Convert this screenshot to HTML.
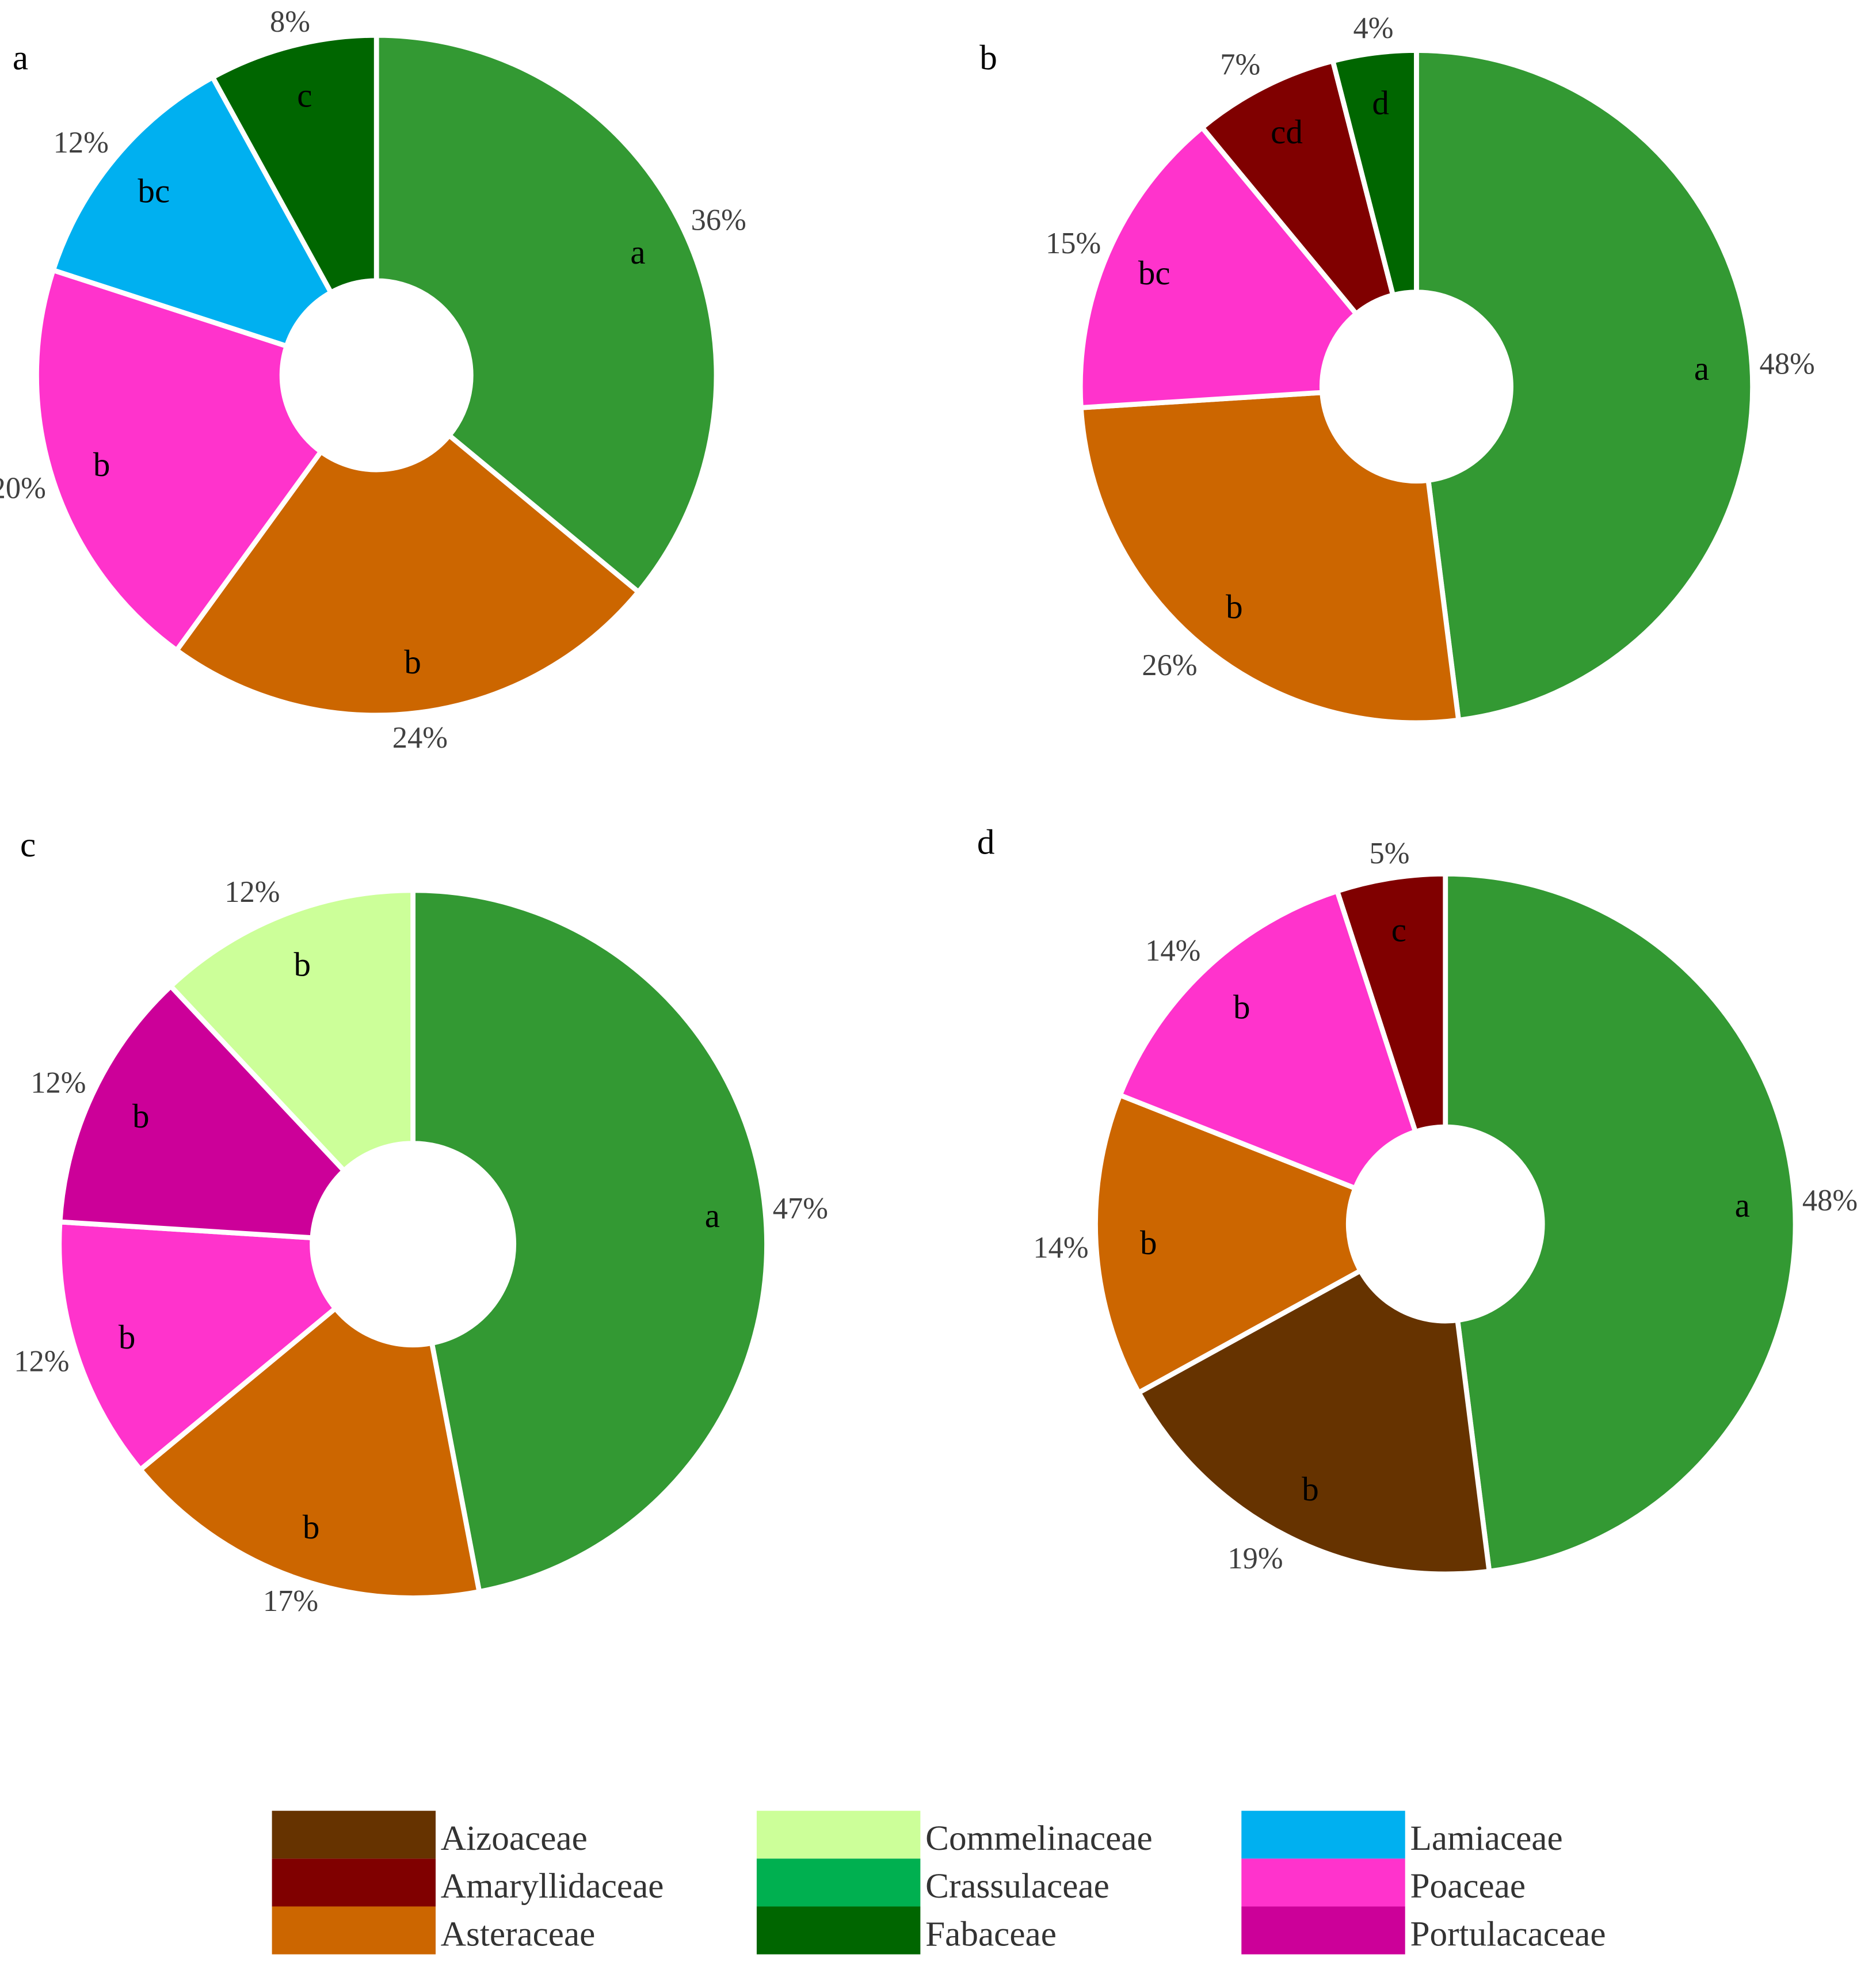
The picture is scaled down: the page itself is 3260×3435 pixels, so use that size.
<!DOCTYPE html>
<html><head><meta charset="utf-8"><style>
html,body{margin:0;padding:0;background:#fff;}
svg{display:block;font-family:"Liberation Serif",serif;}
</style></head><body>
<svg id="chart" width="3260" height="3435" viewBox="0 0 1490 1570" preserveAspectRatio="none" xmlns="http://www.w3.org/2000/svg">
<g id="panels"></g>
<g id="legend"></g>
</svg>
<script>
const COLORS = {Aizoaceae:'#663300',Amaryllidaceae:'#800000',Asteraceae:'#cc6600',Commelinaceae:'#ccff99',Crassulaceae:'#00b050',Fabaceae:'#006600',Lamiaceae:'#00b0f0',Poaceae:'#ff33cc',Portulacaceae:'#cc0099',Other:'#339933'};
const panelNames = ['a','b','c','d'];
const famA = ['Other','Asteraceae','Poaceae','Lamiaceae','Fabaceae'];
const valA = [36,24,20,12,8];
const letA = ['a','b','b','bc','c'];
const famB = ['Other','Asteraceae','Poaceae','Amaryllidaceae','Fabaceae'];
const valB = [48,26,15,7,4];
const letB = ['a','b','bc','cd','d'];
const famC = ['Other','Asteraceae','Poaceae','Portulacaceae','Commelinaceae'];
const valC = [47,17,12,12,12];
const letC = ['a','b','b','b','b'];
const famD = ['Other','Aizoaceae','Asteraceae','Poaceae','Amaryllidaceae'];
const valD = [48,19,14,14,5];
const letD = ['a','b','b','b','c'];
const legendItems = ['Aizoaceae','Amaryllidaceae','Asteraceae','Commelinaceae','Crassulaceae','Fabaceae','Lamiaceae','Poaceae','Portulacaceae'];

const geo = [
 {cx:299,cy:298,r:270,ri:75,lx:10,ly:55},
 {cx:1125,cy:307,r:267,ri:75,lx:778,ly:55},
 {cx:328,cy:988,r:281,ri:80,lx:16,ly:680},
 {cx:1148,cy:972,r:278,ri:77,lx:776,ly:678}
];
const data = [[famA,valA,letA],[famB,valB,letB],[famC,valC,letC],[famD,valD,letD]];
const NS='http://www.w3.org/2000/svg';
const panels=document.getElementById('panels');
function pt(g,a,r){return [g.cx+r*Math.sin(a), g.cy-r*Math.cos(a)];}
data.forEach((d,i)=>{
  const g=geo[i];
  const grp=document.createElementNS(NS,'g');
  
  
  panels.appendChild(grp);
  const t=document.createElementNS(NS,'text');
  
  
  t.setAttribute('x',g.lx);t.setAttribute('y',g.ly);t.setAttribute('font-size','28');
  t.textContent=panelNames[i];grp.appendChild(t);
  const total=d[1].reduce((s,v)=>s+v,0);
  let acc=0;
  d[1].forEach((v,j)=>{
    const a0=acc/total*2*Math.PI, a1=(acc+v)/total*2*Math.PI; acc+=v;
    const large=(a1-a0)>Math.PI?1:0;
    const p0=pt(g,a0,g.r),p1=pt(g,a1,g.r),q1=pt(g,a1,g.ri),q0=pt(g,a0,g.ri);
    const p=document.createElementNS(NS,'path');
    
    
    p.setAttribute('d',`M${p0}A${g.r},${g.r} 0 ${large} 1 ${p1}L${q1}A${g.ri},${g.ri} 0 ${large} 0 ${q0}Z`);
    p.setAttribute('fill',COLORS[d[0][j]]);p.setAttribute('stroke','#fff');p.setAttribute('stroke-width','4');
    grp.appendChild(p);
    const am=(a0+a1)/2;
    const lp=pt(g,am,g.r*0.85);
    const l=document.createElementNS(NS,'text');
    
    
    l.setAttribute('x',lp[0]);l.setAttribute('y',lp[1]+9);l.setAttribute('text-anchor','middle');l.setAttribute('font-size','27');
    l.textContent=d[2][j];grp.appendChild(l);
    const s=Math.sin(am), c=Math.cos(am);
    const pp=pt(g,am,g.r+6);
    const anchor = s>0.35?'start':(s<-0.35?'end':'middle');
    const pc=document.createElementNS(NS,'text');
    
    
    pc.setAttribute('x',pp[0]);pc.setAttribute('y',pp[1]+8-14*c);pc.setAttribute('text-anchor',anchor);pc.setAttribute('font-size','24');pc.setAttribute('fill','#404040');
    pc.textContent=v+'%';grp.appendChild(pc);
  });
});
const leg=document.getElementById('legend');
legendItems.forEach((n,k)=>{
  const col=Math.floor(k/3), row=k%3;
  const x=216+col*385, y=1438+row*38;
  const r=document.createElementNS(NS,'rect');
  
  
  r.setAttribute('x',x);r.setAttribute('y',y);r.setAttribute('width',130);r.setAttribute('height',38);r.setAttribute('fill',COLORS[n]);
  leg.appendChild(r);
  const t=document.createElementNS(NS,'text');
  
  
  t.setAttribute('x',x+134);t.setAttribute('y',y+31);t.setAttribute('font-size','28');t.setAttribute('fill','#333');
  t.textContent=n;leg.appendChild(t);
});
</script>
</body></html>
